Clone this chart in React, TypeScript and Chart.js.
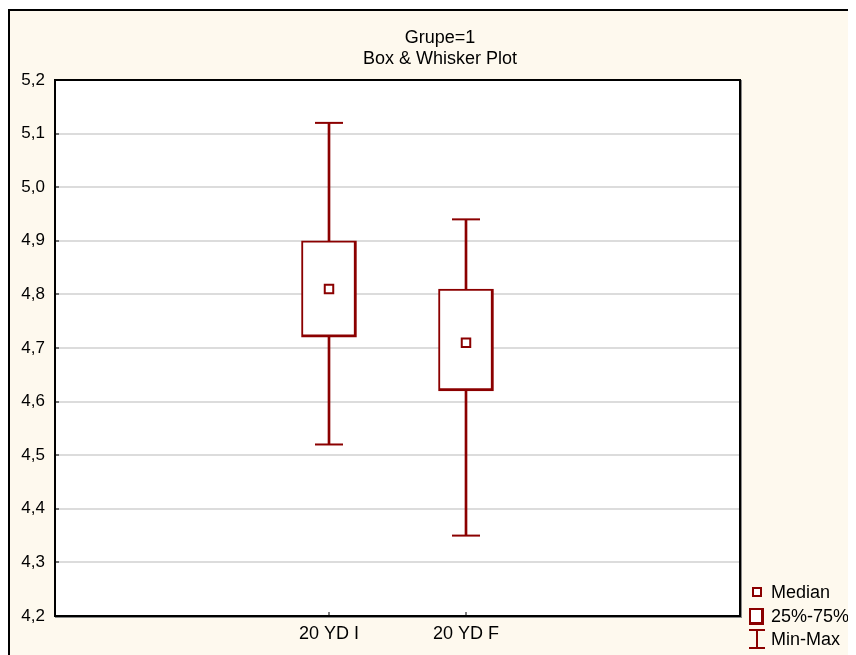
import React, { useEffect, useRef } from 'react';
import { Chart, registerables } from 'chart.js';

Chart.register(...registerables);

// ---- data ----
const categories = ['20 YD I', '20 YD F'];
const minValues = [4.52, 4.35];
const q1Values = [4.72, 4.62];
const medianValues = [4.81, 4.71];
const q3Values = [4.9, 4.81];
const maxValues = [5.12, 4.94];
const xAxisLabels = ['', '', ...categories, '', ''];
const yTickValues = [4.2, 4.3, 4.4, 4.5, 4.6, 4.7, 4.8, 4.9, 5.0, 5.1, 5.2];
const titleLines = ['Grupe=1', 'Box & Whisker Plot'];
const legendLabels = ['Median', '25%-75%', 'Min-Max'];

const FIRST_SLOT = 2;
const DARK_RED = '#8b0000';
const FONT = "'Liberation Sans', Arial, sans-serif";

function pad<T>(vals: T[]): (T | null)[] {
  return xAxisLabels.map((_, i) => {
    const k = i - FIRST_SLOT;
    return k >= 0 && k < vals.length ? vals[k] : null;
  });
}

const statPlugin = {
  id: 'statFrame',
  beforeDraw(chart: any) {
    const { ctx, chartArea: a } = chart;
    ctx.save();
    ctx.fillStyle = '#ffffff';
    ctx.fillRect(a.left, a.top, a.right - a.left, a.bottom - a.top);
    ctx.restore();
  },
  afterDraw(chart: any) {
    const { ctx, chartArea: a } = chart;
    const xs = chart.scales.x;
    const ys = chart.scales.y;
    ctx.save();
    // small inward tick marks
    ctx.fillStyle = '#000';
    yTickValues.forEach((v) => {
      const py = Math.round(ys.getPixelForValue(v));
      ctx.fillRect(a.left, py - 0.5, 4, 1);
    });
    categories.forEach((_, i) => {
      const px = Math.round(xs.getPixelForValue(FIRST_SLOT + i));
      ctx.fillRect(px - 0.5, a.bottom - 4, 1, 4);
    });
    // plot frame
    const w = a.right - a.left;
    const h = a.bottom - a.top;
    ctx.fillRect(a.left - 1, a.top - 1, w + 2, 2);
    ctx.fillRect(a.left - 1, a.top - 1, 2, h + 2);
    ctx.fillRect(a.right - 1, a.top - 1, 2, h + 3);
    ctx.fillRect(a.left - 1, a.bottom - 1, w + 3, 2);
    ctx.fillStyle = '#8a8a8a';
    ctx.fillRect(a.right + 1, a.top, 1, h + 2);
    ctx.fillRect(a.left, a.bottom + 1, w + 2, 1);

    // legend
    const cx = a.right + 17;
    const tx = a.right + 31;
    const ly = [a.bottom - 24, a.bottom, a.bottom + 23];
    // median icon
    ctx.fillStyle = '#fff';
    ctx.fillRect(cx - 4, ly[0] - 4, 8, 8);
    ctx.strokeStyle = DARK_RED;
    ctx.lineWidth = 2;
    ctx.strokeRect(cx - 4, ly[0] - 4, 8, 8);
    // box icon
    ctx.fillStyle = DARK_RED;
    ctx.fillRect(cx - 8, ly[1] - 8, 15, 17);
    ctx.fillStyle = '#fff';
    ctx.fillRect(cx - 6, ly[1] - 6, 10, 12);
    // min-max icon
    ctx.fillStyle = DARK_RED;
    ctx.fillRect(cx - 1, ly[2] - 9, 2, 18);
    ctx.fillRect(cx - 8, ly[2] - 10, 16, 2);
    ctx.fillRect(cx - 8, ly[2] + 8, 16, 2);
    // legend text
    ctx.fillStyle = '#000';
    ctx.font = `18px ${FONT}`;
    ctx.textBaseline = 'middle';
    ctx.textAlign = 'left';
    legendLabels.forEach((t, i) => ctx.fillText(t, tx, ly[i] + 1));
    ctx.restore();
  },
};

export default function App() {
  const ref = useRef<HTMLCanvasElement>(null);
  useEffect(() => {
    const prev = document.documentElement.style.overflow;
    document.documentElement.style.overflow = 'hidden';
    const chart = new Chart(ref.current as HTMLCanvasElement, {
      type: 'bar',
      data: {
        labels: xAxisLabels,
        datasets: [
          {
            type: 'line',
            label: 'Median',
            data: pad(medianValues),
            showLine: false,
            pointStyle: 'rect',
            pointRadius: 6,
            pointBorderWidth: 2,
            pointBackgroundColor: '#ffffff',
            pointBorderColor: DARK_RED,
            yAxisID: 'y',
            order: 0,
          },
          {
            type: 'line',
            label: 'Max',
            data: pad(maxValues),
            showLine: false,
            pointStyle: 'line',
            pointRadius: 14,
            pointBorderWidth: 2,
            pointBorderColor: DARK_RED,
            yAxisID: 'y',
            order: 1,
          },
          {
            type: 'line',
            label: 'Min',
            data: pad(minValues),
            showLine: false,
            pointStyle: 'line',
            pointRadius: 14,
            pointBorderWidth: 2,
            pointBorderColor: DARK_RED,
            yAxisID: 'y',
            order: 1,
          },
          {
            type: 'bar',
            label: '25%-75%',
            data: pad(q1Values.map((q, i) => [q, q3Values[i]])),
            backgroundColor: '#ffffff',
            borderColor: DARK_RED,
            borderWidth: { top: 2, left: 2, right: 3, bottom: 3 },
            borderSkipped: false,
            barThickness: 55,
            grouped: false,
            yAxisID: 'y',
            order: 2,
          },
          {
            type: 'bar',
            label: 'Min-Max',
            data: pad(minValues.map((m, i) => [m, maxValues[i]])),
            backgroundColor: DARK_RED,
            borderWidth: 0,
            barThickness: 2,
            grouped: false,
            yAxisID: 'y',
            order: 3,
          },
        ] as any,
      },
      options: {
        responsive: false,
        animation: false,
        events: [],
        layout: { padding: 0 },
        plugins: {
          legend: { display: false },
          tooltip: { enabled: false },
          title: {
            display: true,
            text: titleLines,
            color: '#000',
            fullSize: true,
            font: { family: FONT, size: 18, weight: 'normal', lineHeight: '21px' } as any,
            padding: { top: 17, bottom: 10 },
          },
        },
        scales: {
          x: {
            type: 'category',
            offset: false,
            grid: { display: false, drawTicks: false },
            border: { display: false },
            ticks: {
              color: '#000',
              font: { family: FONT, size: 18 },
              padding: 7,
              autoSkip: false,
              maxRotation: 0,
            },
            afterFit: (s: any) => {
              s.height = 40;
            },
          },
          y: {
            type: 'linear',
            position: 'left',
            min: 4.2,
            max: 5.2,
            afterBuildTicks: (s: any) => {
              s.ticks = yTickValues.map((v) => ({ value: v }));
            },
            ticks: {
              color: '#000',
              font: { family: FONT, size: 17 },
              padding: 10,
              callback: (v: any) => Number(v).toFixed(1).replace('.', ','),
            },
            grid: { color: '#dcdcdc', lineWidth: 2, drawTicks: false },
            border: { display: false },
            afterFit: (s: any) => {
              s.width = 45;
            },
          },
          yPad: {
            type: 'linear',
            position: 'right',
            display: true,
            grid: { display: false, drawTicks: false },
            border: { display: false },
            ticks: { display: false },
            afterFit: (s: any) => {
              s.width = 130;
            },
          },
        } as any,
      },
      plugins: [statPlugin],
    });
    return () => {
      chart.destroy();
      document.documentElement.style.overflow = prev;
    };
  }, []);

  return (
    <div
      style={{
        position: 'relative',
        top: 1,
        width: 848,
        height: 647,
        boxSizing: 'border-box',
        borderTop: '2px solid #000',
        borderLeft: '2px solid #000',
        background: '#FEF9EE',
        overflow: 'hidden',
      }}
    >
      <canvas ref={ref} width={860} height={645} style={{ display: 'block' }} />
    </div>
  );
}
